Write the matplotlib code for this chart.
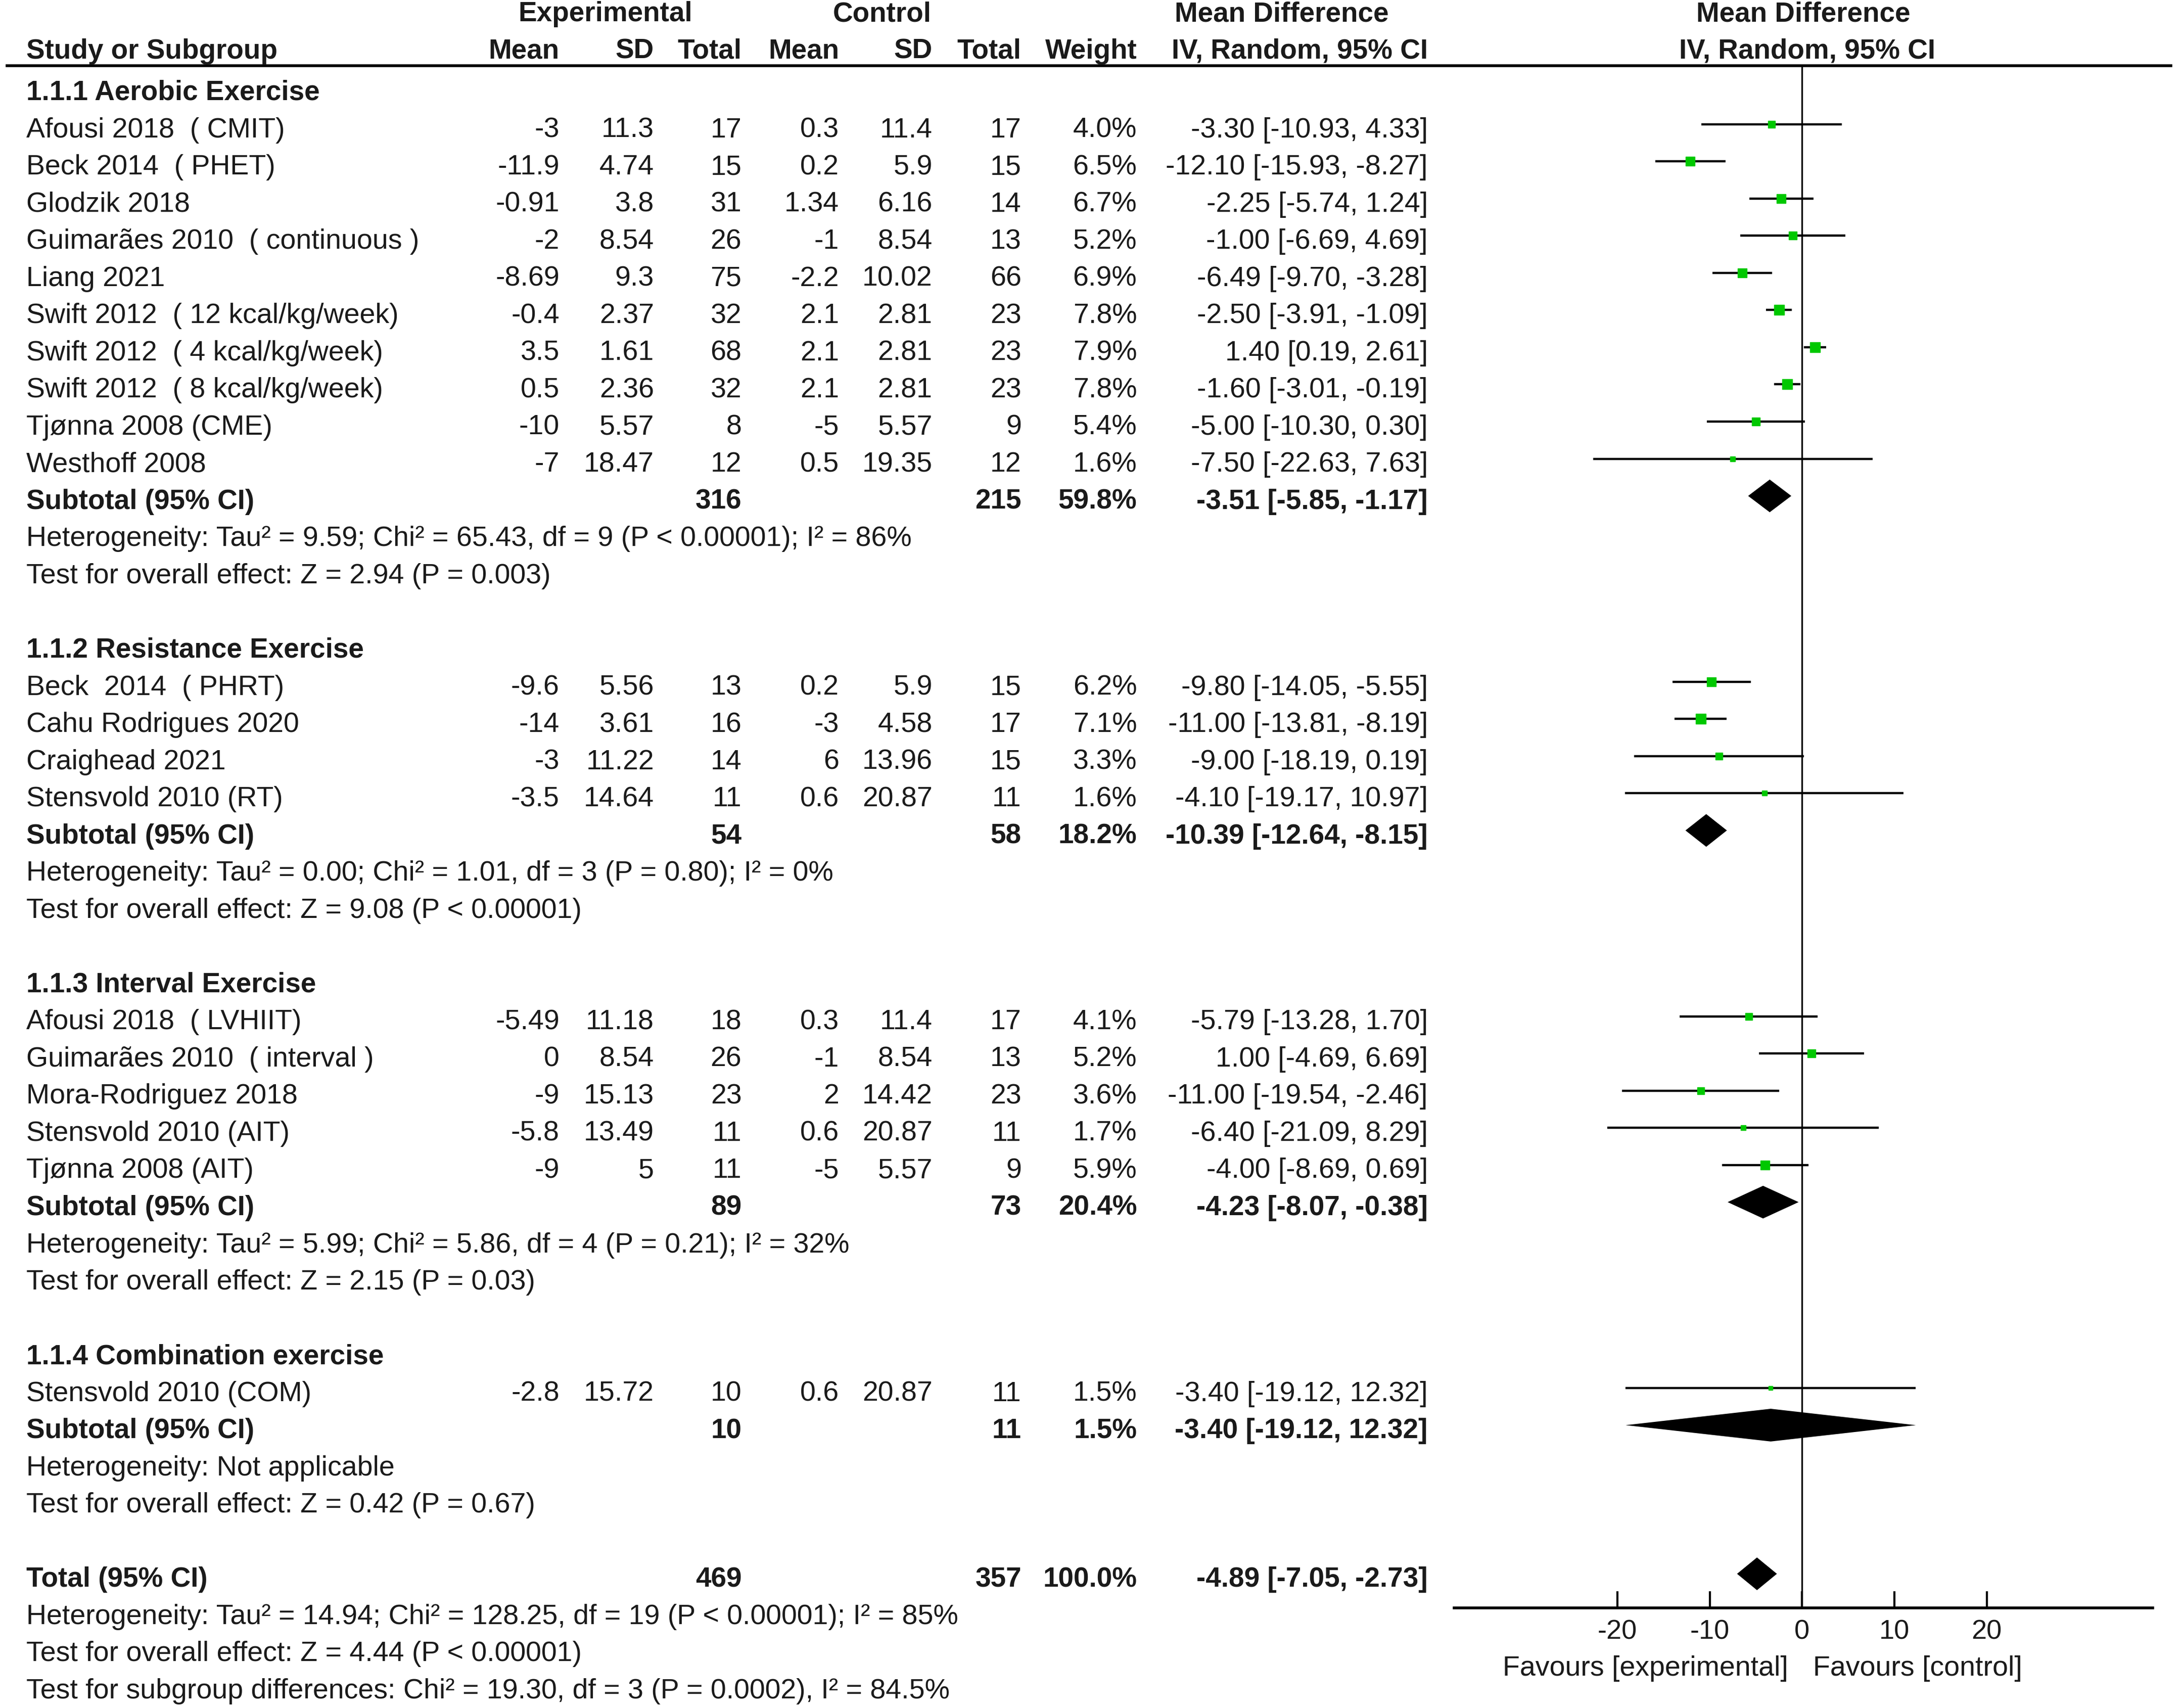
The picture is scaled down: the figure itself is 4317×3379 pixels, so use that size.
import matplotlib
matplotlib.use("Agg")
import matplotlib.pyplot as plt
import matplotlib.transforms as mtransforms
import numpy as np

plt.rcParams['font.family'] = ['Liberation Sans', 'DejaVu Sans']

# ---- data ----
group_titles = ["1.1.1 Aerobic Exercise", "1.1.2 Resistance Exercise",
                "1.1.3 Interval Exercise", "1.1.4 Combination exercise"]

studies = [
    ["Afousi 2018  ( CMIT)", "Beck 2014  ( PHET)", "Glodzik 2018", "Guimarães 2010  ( continuous )",
     "Liang 2021", "Swift 2012  ( 12 kcal/kg/week)", "Swift 2012  ( 4 kcal/kg/week)",
     "Swift 2012  ( 8 kcal/kg/week)", "Tjønna 2008 (CME)", "Westhoff 2008"],
    ["Beck  2014  ( PHRT)", "Cahu Rodrigues 2020", "Craighead 2021", "Stensvold 2010 (RT)"],
    ["Afousi 2018  ( LVHIIT)", "Guimarães 2010  ( interval )", "Mora-Rodriguez 2018",
     "Stensvold 2010 (AIT)", "Tjønna 2008 (AIT)"],
    ["Stensvold 2010 (COM)"],
]
exp_mean = [[-3, -11.9, -0.91, -2, -8.69, -0.4, 3.5, 0.5, -10, -7],
            [-9.6, -14, -3, -3.5],
            [-5.49, 0, -9, -5.8, -9],
            [-2.8]]
exp_sd = [[11.3, 4.74, 3.8, 8.54, 9.3, 2.37, 1.61, 2.36, 5.57, 18.47],
          [5.56, 3.61, 11.22, 14.64],
          [11.18, 8.54, 15.13, 13.49, 5],
          [15.72]]
exp_n = [[17, 15, 31, 26, 75, 32, 68, 32, 8, 12],
         [13, 16, 14, 11],
         [18, 26, 23, 11, 11],
         [10]]
ctl_mean = [[0.3, 0.2, 1.34, -1, -2.2, 2.1, 2.1, 2.1, -5, 0.5],
            [0.2, -3, 6, 0.6],
            [0.3, -1, 2, 0.6, -5],
            [0.6]]
ctl_sd = [[11.4, 5.9, 6.16, 8.54, 10.02, 2.81, 2.81, 2.81, 5.57, 19.35],
          [5.9, 4.58, 13.96, 20.87],
          [11.4, 8.54, 14.42, 20.87, 5.57],
          [20.87]]
ctl_n = [[17, 15, 14, 13, 66, 23, 23, 23, 9, 12],
         [15, 17, 15, 11],
         [17, 13, 23, 11, 9],
         [11]]
weight = [[4.0, 6.5, 6.7, 5.2, 6.9, 7.8, 7.9, 7.8, 5.4, 1.6],
          [6.2, 7.1, 3.3, 1.6],
          [4.1, 5.2, 3.6, 1.7, 5.9],
          [1.5]]
md = [[-3.30, -12.10, -2.25, -1.00, -6.49, -2.50, 1.40, -1.60, -5.00, -7.50],
      [-9.80, -11.00, -9.00, -4.10],
      [-5.79, 1.00, -11.00, -6.40, -4.00],
      [-3.40]]
ci_lo = [[-10.93, -15.93, -5.74, -6.69, -9.70, -3.91, 0.19, -3.01, -10.30, -22.63],
         [-14.05, -13.81, -18.19, -19.17],
         [-13.28, -4.69, -19.54, -21.09, -8.69],
         [-19.12]]
ci_hi = [[4.33, -8.27, 1.24, 4.69, -3.28, -1.09, 2.61, -0.19, 0.30, 7.63],
         [-5.55, -8.19, 0.19, 10.97],
         [1.70, 6.69, -2.46, 8.29, 0.69],
         [12.32]]

sub_exp_n = [316, 54, 89, 10]
sub_ctl_n = [215, 58, 73, 11]
sub_weight = [59.8, 18.2, 20.4, 1.5]
sub_md = [-3.51, -10.39, -4.23, -3.40]
sub_lo = [-5.85, -12.64, -8.07, -19.12]
sub_hi = [-1.17, -8.15, -0.38, 12.32]
sub_het = ["Heterogeneity: Tau² = 9.59; Chi² = 65.43, df = 9 (P < 0.00001); I² = 86%",
           "Heterogeneity: Tau² = 0.00; Chi² = 1.01, df = 3 (P = 0.80); I² = 0%",
           "Heterogeneity: Tau² = 5.99; Chi² = 5.86, df = 4 (P = 0.21); I² = 32%",
           "Heterogeneity: Not applicable"]
sub_test = ["Test for overall effect: Z = 2.94 (P = 0.003)",
            "Test for overall effect: Z = 9.08 (P < 0.00001)",
            "Test for overall effect: Z = 2.15 (P = 0.03)",
            "Test for overall effect: Z = 0.42 (P = 0.67)"]

total_exp_n = 469
total_ctl_n = 357
total_weight = 100.0
total_md, total_lo, total_hi = -4.89, -7.05, -2.73
total_lines = ["Heterogeneity: Tau² = 14.94; Chi² = 128.25, df = 19 (P < 0.00001); I² = 85%",
               "Test for overall effect: Z = 4.44 (P < 0.00001)",
               "Test for subgroup differences: Chi² = 19.30, df = 3 (P = 0.0002), I² = 84.5%"]

xticks = [-20, -10, 0, 10, 20]

# ---- layout ----
W, H = 4317, 3379
fig = plt.figure(figsize=(W / 100, H / 100), dpi=100)
fs = 40        # regular text
fsb = 39.5     # bold text
txt_col = '#1a1a1a'
green = '#00c800'
text_dy = 0.16  # text sits a bit lower than the marks

# forest axes covers whole height; y is row index
ax = fig.add_axes([1045 / 1568, 0.0, 502 / 1568, 1.0])
ax.set_xlim(-37.7, 38)
ax.set_ylim(45.61, -0.342)
for s in ['top', 'left', 'right']:
    ax.spines[s].set_visible(False)
axis_row = 42.92
ax.spines['bottom'].set_position(('data', axis_row))
ax.spines['bottom'].set_linewidth(4)
ax.set_yticks([])
ax.set_xticks(xticks)
ax.set_xticklabels([str(t) for t in xticks])
ax.tick_params(axis='x', direction='in', length=24, width=3, pad=16,
               labelsize=fs - 1, labelcolor=txt_col)
ax.patch.set_visible(False)

tr = mtransforms.blended_transform_factory(fig.transFigure, ax.transData)
tr_ax = mtransforms.blended_transform_factory(ax.transAxes, ax.transData)

def fx(px):
    return px / 1568

col_right = {'em': 402, 'es': 470, 'en': 533, 'cm': 603, 'cs': 670, 'cn': 734, 'w': 817, 'ci': 1026}

def put(x, row, s, ha='right', bold=False, color=txt_col, trans=None, dy=text_dy):
    ax.text(fx(x) if trans is None else x, row + dy, s,
            transform=tr if trans is None else trans, ha=ha, va='center',
            fontsize=fsb if bold else fs,
            fontweight='bold' if bold else 'normal', color=color, clip_on=False)

def fnum(v):
    return f"{v:g}"

def fci(m, lo, hi):
    return f"{m:.2f} [{lo:.2f}, {hi:.2f}]"

# header
hdy = 0.04
put(435, 0, "Experimental", ha='center', bold=True, dy=hdy)
put(634, 0, "Control", ha='center', bold=True, dy=hdy)
put(921, 0, "Mean Difference", ha='center', bold=True, dy=hdy)
put(0.5, 0, "Mean Difference", ha='center', bold=True, trans=tr_ax, dy=hdy)
put(19, 1, "Study or Subgroup", ha='left', bold=True, dy=hdy)
for key, lab in [('em', 'Mean'), ('es', 'SD'), ('en', 'Total'), ('cm', 'Mean'),
                 ('cs', 'SD'), ('cn', 'Total'), ('w', 'Weight'), ('ci', 'IV, Random, 95% CI')]:
    put(col_right[key], 1, lab, bold=True, dy=hdy)
put(0.505, 1, "IV, Random, 95% CI", ha='center', bold=True, trans=tr_ax, dy=hdy)

header_line_row = 1.42
ax.plot([fx(5), fx(1560)], [header_line_row, header_line_row], transform=tr,
        color='black', lw=4, clip_on=False)
ax.vlines(0, header_line_row, axis_row, color='black', lw=2.4)

half_h = 0.44
row = 2
for g in range(len(group_titles)):
    put(19, row, group_titles[g], ha='left', bold=True)
    row += 1
    for i, name in enumerate(studies[g]):
        put(19, row, name, ha='left')
        put(col_right['em'], row, fnum(exp_mean[g][i]))
        put(col_right['es'], row, fnum(exp_sd[g][i]))
        put(col_right['en'], row, str(exp_n[g][i]))
        put(col_right['cm'], row, fnum(ctl_mean[g][i]))
        put(col_right['cs'], row, fnum(ctl_sd[g][i]))
        put(col_right['cn'], row, str(ctl_n[g][i]))
        put(col_right['w'], row, f"{weight[g][i]:.1f}%")
        put(col_right['ci'], row, fci(md[g][i], ci_lo[g][i], ci_hi[g][i]))
        ax.hlines(row, ci_lo[g][i], ci_hi[g][i], color='black', lw=3.2)
        ax.plot(md[g][i], row, marker='s', ms=5.2 * np.sqrt(weight[g][i]),
                color=green, mec=green, ls='none')
        row += 1
    put(19, row, "Subtotal (95% CI)", ha='left', bold=True)
    put(col_right['en'], row, str(sub_exp_n[g]), bold=True)
    put(col_right['cn'], row, str(sub_ctl_n[g]), bold=True)
    put(col_right['w'], row, f"{sub_weight[g]:.1f}%", bold=True)
    put(col_right['ci'], row, fci(sub_md[g], sub_lo[g], sub_hi[g]), bold=True)
    ax.fill([sub_lo[g], sub_md[g], sub_hi[g], sub_md[g]],
            [row, row - half_h, row, row + half_h], color='black', lw=0)
    row += 1
    put(19, row, sub_het[g], ha='left')
    row += 1
    put(19, row, sub_test[g], ha='left')
    row += 2

put(19, row, "Total (95% CI)", ha='left', bold=True)
put(col_right['en'], row, str(total_exp_n), bold=True)
put(col_right['cn'], row, str(total_ctl_n), bold=True)
put(col_right['w'], row, f"{total_weight:.1f}%", bold=True)
put(col_right['ci'], row, fci(total_md, total_lo, total_hi), bold=True)
ax.fill([total_lo, total_md, total_hi, total_md],
        [row, row - half_h, row, row + half_h], color='black', lw=0)
for line in total_lines:
    row += 1
    put(19, row, line, ha='left')

ax.text(-1.5, 44.55, "Favours [experimental]", ha='right', va='center', fontsize=fs, color=txt_col)
ax.text(1.2, 44.55, "Favours [control]", ha='left', va='center', fontsize=fs, color=txt_col)

fig.savefig("out.png", dpi=100, facecolor='white')
